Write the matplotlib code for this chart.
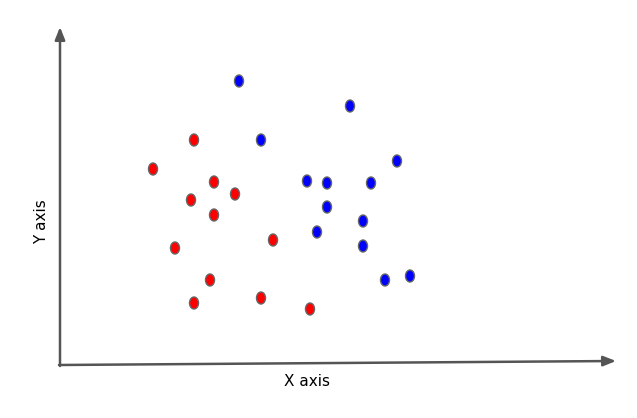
import matplotlib
matplotlib.use('Agg')
import matplotlib.pyplot as plt
from matplotlib.patches import Ellipse

# 點的位置（以原點為基準的座標）
red_x = [134, 93, 154, 175, 131, 154, 213, 115, 150, 201, 134, 250]
red_y = [225, 196, 183, 171, 165, 150, 125, 117, 85, 67, 62, 56]
blue_x = [179, 290, 201, 337, 247, 267, 311, 267, 303, 257, 303, 350, 325]
blue_y = [284, 259, 225, 204, 184, 182, 182, 158, 144, 133, 119, 89, 85]

x_label = 'X axis'
y_label = 'Y axis'

fig = plt.figure(figsize=(6.37, 4.18), dpi=100)
ax = fig.add_axes([0, 0, 1, 1])
ax.set_xlim(-60, 577)
ax.set_ylim(-53, 365)
ax.axis('off')

axis_color = '#555555'
arrow_style = '-|>,head_length=0.75,head_width=0.3'

# 座標軸箭頭
ax.annotate('', xy=(556, 4), xytext=(-1, 0),
            arrowprops=dict(arrowstyle=arrow_style,
                            color=axis_color, lw=1.8, shrinkA=0, shrinkB=0))
ax.annotate('', xy=(0, 338), xytext=(0, -1),
            arrowprops=dict(arrowstyle=arrow_style,
                            color=axis_color, lw=1.8, shrinkA=0, shrinkB=0))

# 畫點
for x, y in zip(red_x, red_y):
    ax.add_patch(Ellipse((x, y), 9, 12, facecolor='#ff0000',
                         edgecolor='#666666', lw=1))
for x, y in zip(blue_x, blue_y):
    ax.add_patch(Ellipse((x, y), 9, 12, facecolor='#0000ff',
                         edgecolor='#666666', lw=1))

ax.text(247, -16, x_label, ha='center', va='center', fontsize=11)
ax.text(-18, 143, y_label, ha='center', va='center', fontsize=11, rotation=90)

fig.savefig('out.png', dpi=100)
